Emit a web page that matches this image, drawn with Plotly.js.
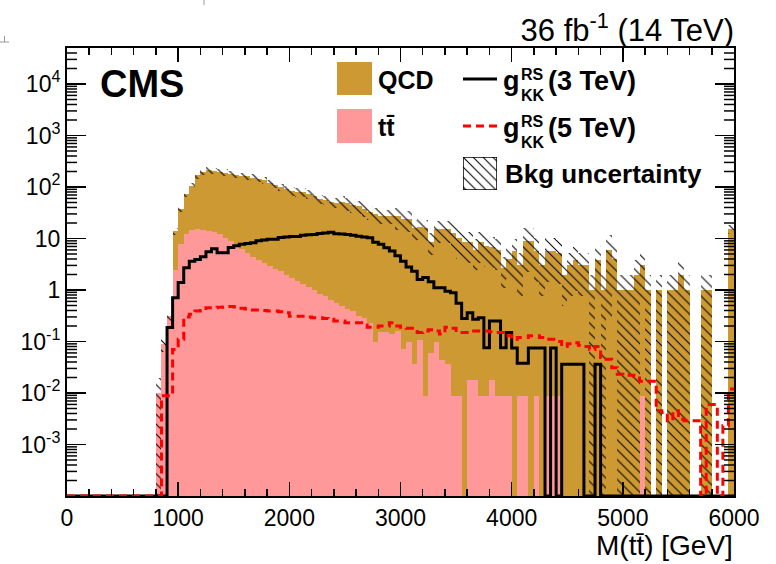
<!DOCTYPE html>
<html><head><meta charset="utf-8">
<script src="https://cdn.plot.ly/plotly-3.0.1.min.js"></script>
<style>html,body{margin:0;padding:0;background:#fff}</style>
</head><body><div id="chart" style="width:776px;height:564px"></div>
<script>
// ---- binning: 50 GeV bins from 0 to 6000 GeV ----
const binWidth = 50;
const xMax = 6000;

// ---- data (events per bin), index 0 = 0-50 GeV ... index 119 = 5950-6000 GeV ----
const ttbar = [
 0,0,0,0,0,0,0,0,0,0,0,0,0,0,0,0,
 0.01,0.089,0.31,2.5,7.7,12.1,14.7,15,14.7,14.2,
 13.5,12,10.4,9,7.5,6.2,5.2,4.4,3.9,3.4,
 2.9,2.6,2.3,1.95,1.7,1.5,1.3,1.15,1.0,0.85,
 0.75,0.65,0.57,0.5,0.42,0.39,0.31,0.28,0.23,0.098,
 0.15,0.15,0.14,0.16,0.07,0.10,0.036,0.105,0.0088,0.061,
 0.10,0.044,0.036,0.0088,0.0088,0,0.0177,0.0177,0.0088,0.0088,
 0.0177,0.0088,0.0088,0.0088,0,0.0088,0.0088,0,0.0088,0,
 0.0088,0.0088,0.0088,0,0,0,0,0,0,0,
 0,0,0,0,0,0,0,0.0088,0,0,
 0,0,0,0,0,0,0,0,0,0,
 0,0,0,0
];
const qcd = [
 0,0,0,0,0,0,0,0,0,0,0,0,0,0,0,0,
 0,0,0,11.5,30,62,91,155,183,198,
 194,185,180,171,165,160,155,148,141,133,
 118,108,98,89,82,77.5,80,72,67,58,
 54,50,49.4,51.5,47.6,44.6,41.7,37.7,32.8,29.9,
 26.9,26.9,26.9,26.8,23.9,23.9,16,16.9,16,8.6,
 14.9,15,15,13,10,8.5,8.5,6,8.5,7,
 6.8,6,2.7,4,5.7,3.0,9,9,5.8,3.0,
 5.8,5.8,5.3,2.0,3.0,3.9,3.0,3.0,1.0,3.9,
 1.0,6,4,1,1,1,1.95,3.0,1,0,
 1,0,1,1,1.95,1,0,0,1,1,
 0,0,0,15
];
const sig3TeV = [
 0,0,0,0,0,0,0,0,0,0,0,0,0,0,0,0,
 0,0,0.186,0.71,1.4,2.7,3.6,3.9,4.4,5.5,
 6.3,5.3,5.3,6.7,7.2,7.7,8.0,8.3,9.0,9.4,
 9.7,9.7,10.4,10.7,10.9,10.9,11.5,11.8,12,12.5,
 12.8,13.2,12.4,12.2,12,11.5,11.1,10.7,10.3,8.5,
 7.7,6.6,5.7,4.6,3.6,2.8,2.3,1.6,1.75,1.45,
 1.1,1.1,0.95,0.88,0.55,0.28,0.36,0.27,0.29,0.076,
 0.25,0.25,0.076,0.15,0.075,0.038,0.038,0.075,0.075,0.075,
 0,0.075,0,0.036,0.036,0.036,0.036,0,0,0.036,
 0,0,0,0,0,0,0,0,0,0,
 0,0,0,0,0,0,0,0,0,0,
 0,0,0,0
];
const sig5TeV = [
 0,0,0,0,0,0,0,0,0,0,0,0,0,0,0,0,
 0,0.0088,0.0088,0.07,0.11,0.3,0.34,0.39,0.40,0.45,
 0.45,0.46,0.47,0.48,0.47,0.44,0.43,0.41,0.41,0.40,
 0.39,0.39,0.38,0.36,0.31,0.31,0.31,0.30,0.29,0.29,
 0.28,0.27,0.25,0.25,0.23,0.23,0.23,0.21,0.19,0.19,
 0.2,0.2,0.23,0.2,0.19,0.18,0.18,0.15,0.16,0.17,
 0.16,0.14,0.19,0.18,0.15,0.15,0.16,0.16,0.16,0.16,
 0.155,0.15,0.15,0.13,0.11,0.12,0.12,0.13,0.13,0.12,
 0.11,0.11,0.10,0.08,0.09,0.095,0.085,0.08,0.07,0.08,
 0.049,0.045,0.031,0.023,0.022,0.022,0.021,0.017,0.017,0.017,
 0.0045,0.0042,0.0029,0.0045,0.0031,0.0029,0.0029,0.0029,0,0.006,
 0.006,0,0.0023,0.012
];
// relative background uncertainty per bin (fraction of total)
const bkgRelUnc = [
 0,0,0,0,0,0,0,0,0,0,0,0,0,0,0,0,
 1.0,0.3,0.2,
 0.15,0.15,0.15,0.15,0.15,0.15,0.15,0.15,0.15,0.15,0.15,0.15,0.15,0.15,0.15,0.15,0.15,0.15,0.15,0.15,0.15,
 0.2,0.2,0.2,0.2,0.2,0.2,0.2,0.2,0.2,
 0.3,0.3,0.3,0.3,0.3,0.3,0.3,0.3,0.3,0.3,
 0.45,0.45,0.45,0.45,0.45,0.45,0.45,0.45,0.45,0.45,
 0.6,0.6,0.6,0.6,0.6,0.6,0.6,0.6,0.6,0.6,0.6,
 0.75,0.75,0.75,0.75,0.75,0.75,0.75,0.75,0.75,0.75,0.75,0.75,0.75,0.75,
 1,0.8,1,0.95,0.8,1,1,1,1,0.8,1,0,1,0,1,1,1,1,0,0,1,1,0,0,0,0.2
];
const yTickVals = [1e-3,1e-2,1e-1,1,10,100,1e3,1e4];
const yTickText = ['10<sup>-3</sup>','10<sup>-2</sup>','10<sup>-1</sup>','1','10','10<sup>2</sup>','10<sup>3</sup>','10<sup>4</sup>'];
const xTickVals = [0,1000,2000,3000,4000,5000,6000];

// ---- colours & geometry ----
const C_QCD = '#cc9933', C_TT = '#ff9999', C_SIG5 = '#ff0000';
const FONT = 'Liberation Sans, Arial, Helvetica, sans-serif';
const W = 776, H = 564, M = {l:67, r:42, t:48, b:68};
const pw = W - M.l - M.r, ph = H - M.t - M.b;
const pX = x => (x - M.l) / pw;
const pY = y => (H - M.b - y) / ph;
const yLogMin = -4, yLogMax = Math.log10(5e4);
const TINY = 1e-6;   // bar base below the axis floor
const FLOOR = 1e-4;  // empty bins of outline histograms sit on the axis floor

const nBins = ttbar.length;
const centers = [], leftEdges = [];
for (let i = 0; i < nBins; i++) { centers.push(binWidth*(i+0.5)); leftEdges.push(binWidth*i); }
const total = ttbar.map((t,i) => t + qcd[i]);

const ttTrace = {type:'bar', x:centers, y:ttbar.map(v => v>0 ? v : null), base:TINY, width:binWidth,
  marker:{color:C_TT, line:{width:0}}, hoverinfo:'skip', showlegend:false};
const qcdTrace = {type:'bar', x:centers, y:qcd.map(v => v>0 ? v : null),
  base:ttbar.map(v => v>0 ? v : TINY), width:binWidth,
  marker:{color:C_QCD, line:{width:0}}, hoverinfo:'skip', showlegend:false};
const bandBase = total.map((t,i) => t>0 ? Math.max(t*(1-bkgRelUnc[i]), TINY) : null);
const bandTrace = {type:'bar', x:centers,
  y:total.map((t,i) => t>0 ? t*(1+bkgRelUnc[i]) - bandBase[i] : null),
  base:bandBase, width:binWidth,
  marker:{color:'rgba(0,0,0,0)', line:{width:0},
    pattern:{shape:'\\', fgcolor:'#000', bgcolor:'rgba(0,0,0,0)', fillmode:'replace', size:7, solidity:0.15}},
  hoverinfo:'skip', showlegend:false};
function stepY(arr){ const a = arr.map(v => v>0 ? v : FLOOR); a.push(a[a.length-1]); return a; }
const stepX = leftEdges.concat([xMax]);
const sig3Trace = {type:'scatter', mode:'lines', x:stepX, y:stepY(sig3TeV),
  line:{shape:'hv', color:'#000', width:3}, hoverinfo:'skip', showlegend:false};
const sig5Trace = {type:'scatter', mode:'lines', x:stepX, y:stepY(sig5TeV),
  line:{shape:'hv', color:C_SIG5, width:3, dash:'8px,5px'}, hoverinfo:'skip', showlegend:false};
// legend hatch swatch
const legHatch = {type:'bar', x:[0.5], y:[1], width:1, xaxis:'x2', yaxis:'y2',
  marker:{color:'rgba(0,0,0,0)', line:{width:1.5, color:'#000'},
    pattern:{shape:'\\', fgcolor:'#000', bgcolor:'rgba(0,0,0,0)', fillmode:'replace', size:7, solidity:0.15}},
  hoverinfo:'skip', showlegend:false};

const ann = (x, y, text, size, opts={}) => Object.assign({xref:'paper', yref:'paper', x:pX(x), y:pY(y), text:text,
  showarrow:false, xanchor:'left', yanchor:'middle', font:{family:FONT, size:size, color:'#000'}}, opts);

const annotations = [
  ann(98, 84, '<b>CMS</b>', 38),
  ann(735, 545, 'M(tt̄) [GeV]', 28, {xanchor:'right'}),
  ann(376, 80, '<b>QCD</b>', 25),
  ann(376, 127, '<b>tt̄</b>', 25),
  ann(501, 81, '<b>g</b>', 27),
  ann(519, 74, '<b>RS</b>', 16),
  ann(519, 95, '<b>KK</b>', 16),
  ann(546, 81, '<b>(3 TeV)</b>', 27),
  ann(501, 128, '<b>g</b>', 27),
  ann(519, 121, '<b>RS</b>', 16),
  ann(519, 142, '<b>KK</b>', 16),
  ann(546, 128, '<b>(5 TeV)</b>', 27),
  ann(503, 174, '<b>Bkg uncertainty</b>', 26)
];
const shapes = [
  {type:'rect', xref:'paper', yref:'paper', x0:pX(337), x1:pX(372), y0:pY(95), y1:pY(62), fillcolor:C_QCD, line:{width:0}},
  {type:'rect', xref:'paper', yref:'paper', x0:pX(337), x1:pX(372), y0:pY(143), y1:pY(109), fillcolor:C_TT, line:{width:0}},
  {type:'line', xref:'paper', yref:'paper', x0:pX(463), x1:pX(497), y0:pY(79), y1:pY(79), line:{color:'#000', width:3}},
  {type:'line', xref:'paper', yref:'paper', x0:pX(463), x1:pX(497), y0:pY(126), y1:pY(126), line:{color:C_SIG5, width:3, dash:'8px,5px'}},
  // small marks at the top-left corner of the picture
  {type:'line', xref:'paper', yref:'paper', x0:pX(0), x1:pX(9), y0:pY(42), y1:pY(42), line:{color:'#999', width:1}},
  {type:'line', xref:'paper', yref:'paper', x0:pX(4.5), x1:pX(4.5), y0:pY(36), y1:pY(42), line:{color:'#999', width:1}},
  {type:'line', xref:'paper', yref:'paper', x0:pX(204), x1:pX(204), y0:pY(0), y1:pY(5), line:{color:'#999', width:1}}
];
// minor log ticks (2..9 per decade) on left and right frame edges
const minorLen = 10 / pw;
for (let d = -4; d <= 4; d++) {
  for (let k = 2; k <= 9; k++) {
    const lv = Math.log10(k) + d;
    if (lv >= yLogMax) continue;
    const yp = (lv - yLogMin) / (yLogMax - yLogMin);
    shapes.push({type:'line', xref:'paper', yref:'paper', x0:0, x1:minorLen, y0:yp, y1:yp, line:{color:'#000', width:1.5}});
    shapes.push({type:'line', xref:'paper', yref:'paper', x0:1-minorLen, x1:1, y0:yp, y1:yp, line:{color:'#000', width:1.5}});
  }
}

const layout = {
  width:W, height:H, margin:{l:M.l, r:M.r, t:M.t, b:M.b, autoexpand:false},
  paper_bgcolor:'#fff', plot_bgcolor:'#fff', barmode:'overlay', bargap:0, showlegend:false,
  font:{family:FONT, color:'#000'},
  title:{text:'36 fb<sup>-1</sup> (14 TeV)', xref:'paper', x:1, xanchor:'right', yref:'container', y:1-30/H, yanchor:'middle',
    font:{family:FONT, size:31, color:'#000'}},
  xaxis:{range:[0, xMax], tickmode:'array', tickvals:xTickVals, ticks:'inside', ticklen:14, tickwidth:1.5, tickcolor:'#000',
    minor:{dtick:200, ticks:'inside', ticklen:7, tickwidth:1.5, tickcolor:'#000'},
    showline:true, linewidth:2, linecolor:'#000', mirror:'allticks', showgrid:false, zeroline:false,
    tickfont:{family:FONT, size:23, color:'#000'}},
  yaxis:{type:'log', range:[yLogMin, yLogMax], tickmode:'array', tickvals:yTickVals, ticktext:yTickText,
    ticks:'inside', ticklen:19, tickwidth:1.5, tickcolor:'#000',
    showline:true, linewidth:2, linecolor:'#000', mirror:'allticks', showgrid:false, zeroline:false,
    tickfont:{family:FONT, size:23, color:'#000'}},
  xaxis2:{domain:[pX(463), pX(497)], range:[0,1], visible:false, anchor:'y2', fixedrange:true},
  yaxis2:{domain:[pY(190), pY(157)], range:[0,1], visible:false, anchor:'x2', fixedrange:true},
  annotations:annotations, shapes:shapes
};

Plotly.newPlot('chart', [ttTrace, qcdTrace, bandTrace, sig3Trace, sig5Trace, legHatch], layout, {staticPlot:true, displayModeBar:false});
</script>
</body></html>
